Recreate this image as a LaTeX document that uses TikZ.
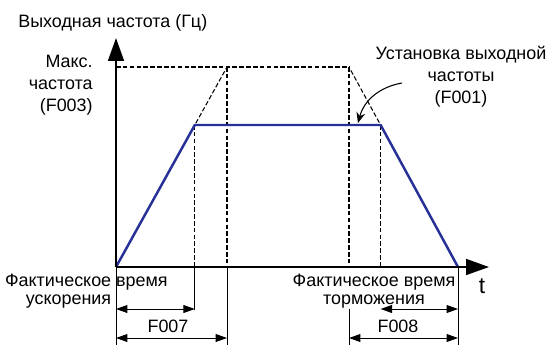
\documentclass[tikz,border=0pt]{standalone}
\usepackage{fontspec}
\setmainfont{Liberation Sans}
\usetikzlibrary{arrows.meta,positioning,calc}
\definecolor{freqblue}{RGB}{38,48,150}

\begin{document}
\begin{tikzpicture}[
  x=0.02cm, y=-0.02cm,
  axis/.style={line width=1.1pt, -{Triangle[length=13pt,width=9pt]}},
  prof/.style={line width=1.4pt, draw=freqblue},
  guide/.style={line width=0.6pt, dash pattern=on 2.6pt off 1.3pt},
  tick/.style={line width=0.5pt},
  dim/.style={line width=0.5pt,
              {Triangle[length=6.5pt,width=4.5pt]}-{Triangle[length=6.5pt,width=4.5pt]}},
  pointer/.style={line width=0.6pt, -{Stealth[length=6pt,width=5pt]}},
  lbl/.style={font=\fontsize{10.2}{12.5}\selectfont, inner sep=0pt}
]
\useasboundingbox (0,0) rectangle (547,345);
% key points of the profile
\coordinate (o) at (116,267);
\coordinate (ytip) at (116,38);
\coordinate (xtip) at (489,267);
\coordinate (a2) at (227,67);
\coordinate (d2) at (349,67);
\coordinate (e) at (458,267);
\coordinate (a1) at ($(o)!0.71!(a2)$);
\coordinate (d1) at ($(e)!0.71!(d2)$);
% set ramps (dashed)
\draw[guide] (o |- a2) -- (a2) -- (d2);
\draw[guide] (o) -- (a2);
\draw[guide] (e) -- (d2);
\draw[guide] (a1) -- (a1 |- o);
\draw[guide] (a2) -- (a2 |- o);
\draw[guide] (d2) -- (d2 |- o);
\draw[guide] (d1) -- (d1 |- o);
% extension lines
\draw[tick] (o) -- (116,345);
\draw[tick] (a1 |- o) -- (a1 |- 0,310);
\draw[tick] (a2 |- o) -- (a2 |- 0,345);
\draw[tick] (d2 |- 0,309) -- (d2 |- 0,345);
\draw[tick] (e) -- (458,345);
% actual output
\draw[prof] (o) -- (a1) -- (d1) -- (e);
\draw[axis] (o) -- (ytip);
\draw[axis] (o) -- (xtip);
% dimensions
\coordinate (r1a) at (116,309);
\coordinate (r1b) at (a1 |- r1a);
\coordinate (r2a) at (116,338);
\coordinate (r2b) at (a2 |- r2a);
\coordinate (r3a) at (d1 |- r1a);
\coordinate (r3b) at (e |- r1a);
\coordinate (r4a) at (d2 |- r2a);
\coordinate (r4b) at (e |- r2a);
\draw[dim] (r1a) -- (r1b);
\draw[dim] (r2a) -- (r2b);
\draw[dim] (r3a) -- (r3b);
\draw[dim] (r4a) -- (r4b);
% labels
\node[lbl, anchor=west] (ylab) at (18,23) {Выходная частота (Гц)};
\node[lbl, align=right, anchor=north east] (fmax) at (93,55) {Макс.\\частота\\(F003)};
\node[lbl, align=center, anchor=north] (fset) at (461,46) {Установка выходной\\частоты\\(F001)};
\node[lbl, font=\fontsize{13}{13}\selectfont, anchor=center] (tlab) at (482,286) {t};
\node[lbl, font=\fontsize{10.2}{10}\selectfont, align=right, anchor=north east]
  (tacc) at (168,274) {Фактическое время\\ускорения\hphantom{\ время}};
\node[lbl, font=\fontsize{10.2}{10}\selectfont, align=center, anchor=north]
  (tdec) at (374,274) {Фактическое время\\торможения};
\node[lbl] (f007) at (168,326) {F007};
\node[lbl] (f008) at (398,326) {F008};
% pointer to set frequency
\coordinate (pstart) at (402,83);
\coordinate (pend) at (358,123);
\draw[pointer] (pstart) to[out=190, in=75] (pend);
\end{tikzpicture}
\end{document}
